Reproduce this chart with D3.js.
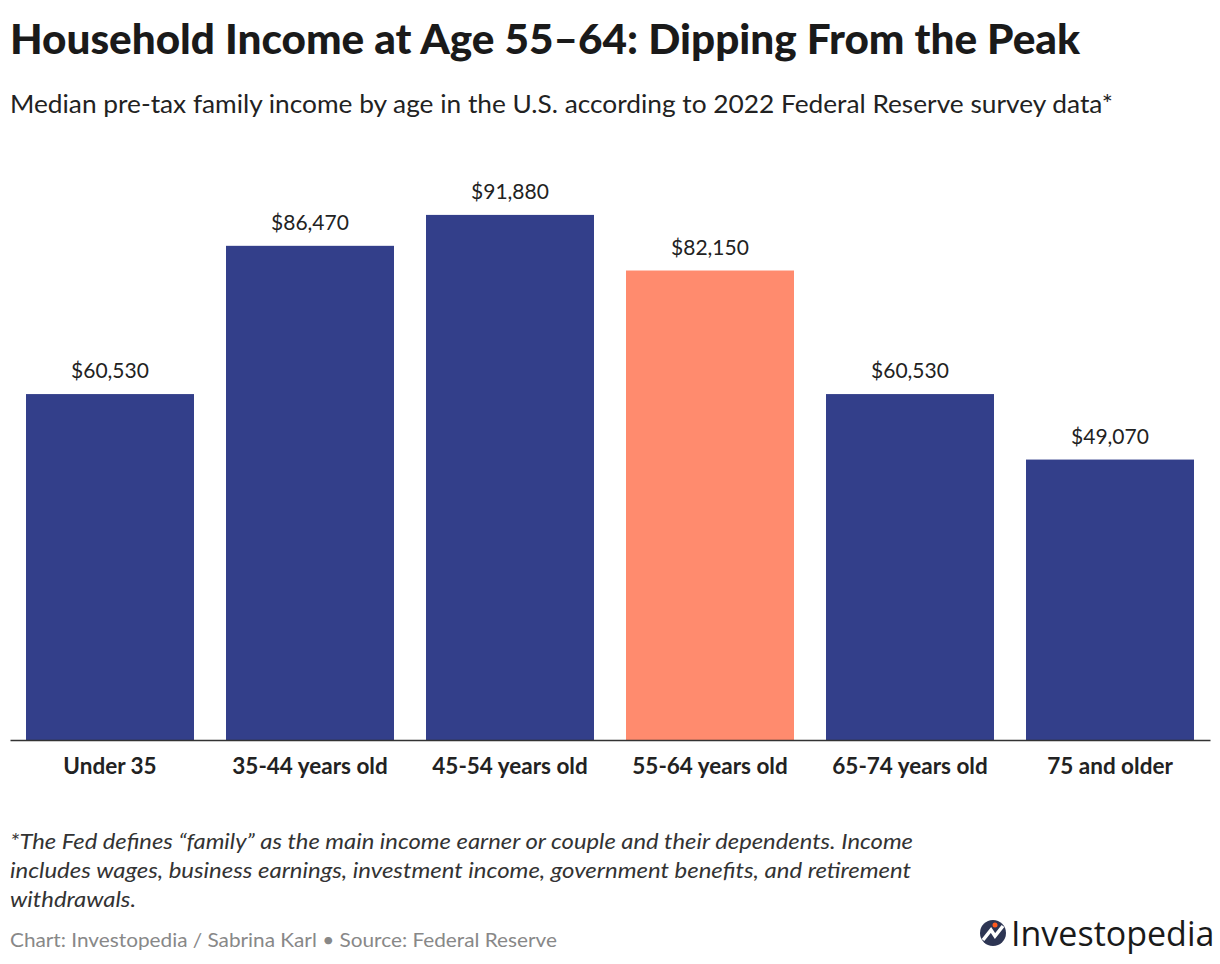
<!DOCTYPE html>
<html><head><meta charset="utf-8">
<script src="https://cdn.jsdelivr.net/npm/d3@7"></script>
<style>body{margin:0;background:#fff}</style>
</head><body><svg id="c" width="1220" height="964"></svg>
<script>
const categories=["Under 35","35-44 years old","45-54 years old","55-64 years old","65-74 years old","75 and older"];
const values=[60530,86470,91880,82150,60530,49070];
const highlight="55-64 years old";
const svg=d3.select("#c");
const F="Lato, 'Noto Sans', sans-serif";
svg.append("text").attr("x",10).attr("y",54).attr("font-family",F).attr("font-weight",900).attr("font-size",41).attr("fill","#1a1a1a").attr("textLength",1070).attr("lengthAdjust","spacingAndGlyphs").text("Household Income at Age 55–64: Dipping From the Peak");
svg.append("text").attr("x",10).attr("y",113).attr("font-family",F).attr("font-size",25).attr("fill","#222").attr("textLength",1103).attr("lengthAdjust","spacingAndGlyphs").text("Median pre-tax family income by age in the U.S. according to 2022 Federal Reserve survey data*");
const x=d3.scaleBand().domain(categories).range([10,1210]).paddingInner(0.16).paddingOuter(0.08);
const y=d3.scaleLinear().domain([0,100000]).range([740,168.5]);
svg.selectAll("rect.b").data(values).enter().append("rect")
 .attr("x",(d,i)=>x(categories[i])).attr("width",x.bandwidth())
 .attr("y",d=>y(d)).attr("height",d=>740-y(d))
 .attr("fill",(d,i)=>categories[i]===highlight?"#ff8b6e":"#333f8a");
svg.selectAll("text.v").data(values).enter().append("text")
 .attr("x",(d,i)=>x(categories[i])+x.bandwidth()/2).attr("y",d=>y(d)-16)
 .attr("text-anchor","middle").attr("font-family",F).attr("font-size",21).attr("fill","#222")
 .text(d=>"$"+d3.format(",")(d));
const ax=svg.append("g").attr("transform","translate(0,740)").call(d3.axisBottom(x).tickSize(0).tickPadding(18));
ax.select(".domain").attr("stroke","#333").attr("stroke-width",1.5);
ax.selectAll("text").attr("font-family",F).attr("font-weight",700).attr("font-size",22.5).attr("fill","#222");
const notes=["*The Fed defines “family” as the main income earner or couple and their dependents. Income","includes wages, business earnings, investment income, government benefits, and retirement","withdrawals."];
const nl=[903,901,126];
notes.forEach((t,i)=>svg.append("text").attr("x",10).attr("y",849+i*29).attr("font-family",F).attr("font-style","italic").attr("font-size",22).attr("fill","#333").attr("textLength",nl[i]).attr("lengthAdjust","spacingAndGlyphs").text(t));
svg.append("text").attr("x",10).attr("y",947).attr("font-family",F).attr("font-size",20).attr("fill","#888").attr("textLength",547).attr("lengthAdjust","spacingAndGlyphs").text("Chart: Investopedia / Sabrina Karl • Source: Federal Reserve");
const lg=svg.append("g");
lg.append("circle").attr("cx",993).attr("cy",933).attr("r",13).attr("fill","#2d3553");
lg.append("path").attr("d","M983,940 L991,930 L995,936 L1003,926").attr("stroke","#fff").attr("stroke-width",3.5).attr("fill","none");
lg.append("circle").attr("cx",995).attr("cy",925).attr("r",2.5).attr("fill","#ff5a1f");
lg.append("text").attr("x",1011).attr("y",946).attr("font-family","'Open Sans',sans-serif").attr("font-size",34).attr("fill","#1a1a1a").text("Investopedia");
</script></body></html>
